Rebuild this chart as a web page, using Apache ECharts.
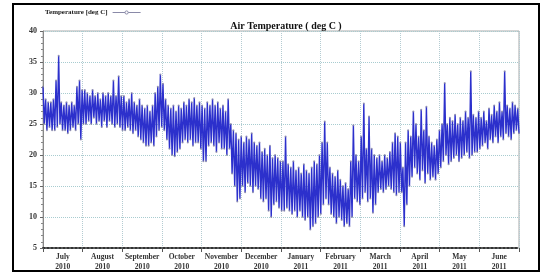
<!DOCTYPE html>
<html>
<head>
<meta charset="utf-8">
<script src="https://cdn.jsdelivr.net/npm/echarts@6/dist/echarts.min.js"></script>
<style>
  html, body { margin: 0; padding: 0; background: #fff; }
  #chart { width: 541px; height: 275px; }
</style>
</head>
<body>
<div id="chart"></div>
<script>
// Month labels along the bottom (Jul 2010 .. Jun 2011)
const months = ['July\n2010', 'August\n2010', 'September\n2010', 'October\n2010', 'November\n2010', 'December\n2010',
    'January\n2011', 'February\n2011', 'March\n2011', 'April\n2011', 'May\n2011', 'June\n2011'];

// Days since 1 July 2010, one sample every 2 days
const sampleStep = 2;

// Upper envelope of the temperature trace (deg C)
const tempHigh = [
    // Jul
    31, 29, 28.5, 28.5, 29, 32, 36, 28.5, 28, 28.5, 28, 28.5, 28, 31, 32, 30.5,
    // Aug
    30.5, 30, 29.5, 30.5, 29.5, 30, 29, 30, 29.5, 30, 29.5, 32, 29.5, 32.7, 29.5,
    // Sep
    29.5, 28.5, 29, 30, 28.5, 28, 29, 28, 27.5, 28, 27, 28, 30, 31, 33,
    // Oct
    31.5, 29, 28, 27.5, 28, 27, 28, 27.5, 28.5, 28, 29, 28.5, 29.2, 28, 28.5, 28,
    // Nov
    27.5, 28.5, 28, 29, 28, 28.5, 27.5, 28, 27, 29, 25, 24, 23.5, 22.5, 23,
    // Dec
    22, 23, 22.5, 23.5, 22, 21.5, 22, 20.5, 21, 20, 21.5, 19.5, 20, 19.5, 19,
    // Jan
    19, 23, 18.5, 18, 19, 17.5, 18, 17, 18.5, 17.5, 17, 18, 19, 18.5, 20, 22,
    // Feb
    25.4, 22, 18, 17, 16.5, 17.5, 16, 15, 15.5, 14.5, 19, 24.8, 20, 19,
    // Mar
    23, 28.3, 21, 26.2, 21, 20, 19.5, 20, 19, 20, 19.5, 20.5, 22, 23.5, 23,
    // Apr
    22, 18, 22, 24, 23, 27, 25, 23, 27.3, 24, 27.8, 23, 22, 21.5, 22.5,
    // May
    24, 25, 31.6, 25, 26, 25.5, 26.5, 25, 26, 25.5, 27, 26, 33.5, 26.5, 26, 27,
    // Jun
    26, 27, 25.5, 27.5, 26.5, 28, 27, 28.5, 27, 33.5, 28, 27.5, 28.5, 28, 27.5
];

// Lower envelope of the temperature trace (deg C)
const tempLow = [
    // Jul
    25, 24, 24.5, 24, 24, 24.5, 25, 24, 24, 23.5, 24, 24.5, 24, 25, 22.5, 25,
    // Aug
    25, 25.5, 25, 26, 25, 25.5, 24.5, 25.5, 24.5, 25.5, 25, 24.5, 25, 24.5, 24,
    // Sep
    24, 24.5, 24, 23.5, 24, 23, 22.5, 22, 21.5, 21.5, 22, 21.5, 23, 24, 24.5,
    // Oct
    24, 22.5, 21, 20, 19.8, 20.5, 21, 22, 22.5, 22, 22.5, 21.5, 22, 22, 21, 19,
    // Nov
    19, 21.5, 22, 21.5, 20.5, 22, 21, 21, 20, 21, 17, 15, 12.5, 13, 15,
    // Dec
    14, 15.5, 15, 14, 15, 14.5, 13, 12.5, 13, 11, 10, 12, 12.5, 11.5, 11,
    // Jan
    11, 11.5, 11, 10.5, 11, 10, 11, 10, 9.5, 10, 8, 8.5, 9, 10, 10.5, 12,
    // Feb
    13, 12, 10.5, 10, 9, 10, 9.5, 8.5, 9, 8.5, 10, 13, 12.5, 12,
    // Mar
    13, 14, 12.5, 13, 10.7, 12, 14, 14.5, 14, 14.5, 15, 14.5, 14, 13.5, 14,
    // Apr
    14, 8.5, 12, 15, 16.5, 18, 17, 16, 17.5, 15.5, 17, 16, 16.5, 16, 17,
    // May
    18, 19, 20, 18.5, 19, 19.5, 20, 19, 19.5, 20, 20.5, 19.5, 20, 20.5, 20.5, 21,
    // Jun
    21.5, 22, 21, 22.5, 22, 23, 22, 23, 22.5, 23.5, 23, 22.5, 23.5, 24, 23.5
];

// y axis range
const yMin = 5, yMax = 40, yStep = 5;

// interleave high / low samples into one trace
const trace = [];
tempHigh.forEach((hi, i) => {
    const d = i * sampleStep;
    trace.push([d, hi]);
    trace.push([d + 1, tempLow[i]]);
});

const serif = '"Liberation Serif", "DejaVu Serif", serif';
const chart = echarts.init(document.getElementById('chart'));

const option = {
    backgroundColor: '#fff',
    animation: false,
    title: {
        text: 'Air Temperature ( deg C )',
        left: 281,
        textAlign: 'center',
        top: 16,
        textStyle: { fontFamily: serif, fontSize: 10, fontWeight: 'bold', color: '#111' }
    },
    legend: {
        data: [{
            name: 'Temperature [deg C]',
            itemStyle: { color: '#fff', borderColor: '#8a8aa8', borderWidth: 1 },
            lineStyle: { color: '#8a8aa8', width: 1 }
        }],
        left: 40,
        top: 4,
        align: 'right',
        itemWidth: 28,
        itemHeight: 4,
        itemGap: 4,
        textStyle: { fontFamily: serif, fontSize: 7, fontWeight: 'bold', color: '#222' }
    },
    grid: {
        left: 43, right: 22, top: 31, bottom: 27,
        show: true, borderColor: '#aaa', borderWidth: 1, backgroundColor: 'transparent'
    },
    xAxis: [
        {
            type: 'category',
            data: months,
            boundaryGap: true,
            axisLine: { lineStyle: { color: '#333', width: 2, type: 'dotted' } },
            axisTick: { show: true, length: 4, lineStyle: { color: '#555' } },
            axisLabel: {
                interval: 0,
                hideOverlap: false,
                fontFamily: serif, fontSize: 7.5, fontWeight: 'bold', color: '#333',
                lineHeight: 10, margin: 4
            },
            splitLine: { show: true, lineStyle: { color: '#b4ccd2', type: 'dotted', width: 1 } }
        },
        {
            type: 'value',
            min: 0,
            max: 365,
            show: false
        }
    ],
    yAxis: {
        type: 'value',
        min: yMin,
        max: yMax,
        interval: yStep,
        axisLine: { show: true, lineStyle: { color: '#888', width: 1 } },
        axisTick: { show: true, length: 3, lineStyle: { color: '#666' } },
        minorTick: { show: true, splitNumber: 5, length: 2, lineStyle: { color: '#888' } },
        axisLabel: { fontFamily: serif, fontSize: 8, fontWeight: 'bold', color: '#333', margin: 6 },
        splitLine: { show: true, lineStyle: { color: '#a8ccd0', type: 'dotted', width: 1 } }
    },
    series: [
        {
            name: 'Temperature [deg C]',
            type: 'line',
            xAxisIndex: 1,
            data: trace,
            symbol: 'circle',
            symbolSize: 2,
            showSymbol: true,
            showAllSymbol: true,
            lineStyle: { color: '#2c30cc', width: 1.4 },
            itemStyle: { color: 'rgba(130,130,165,0.8)' },
            z: 3
        }
    ],
    graphic: [
        {
            type: 'rect',
            shape: { x: 13, y: 4, width: 526, height: 267 },
            style: { fill: 'none', stroke: '#000', lineWidth: 2 },
            silent: true
        }
    ]
};

chart.setOption(option);
</script>
</body>
</html>
